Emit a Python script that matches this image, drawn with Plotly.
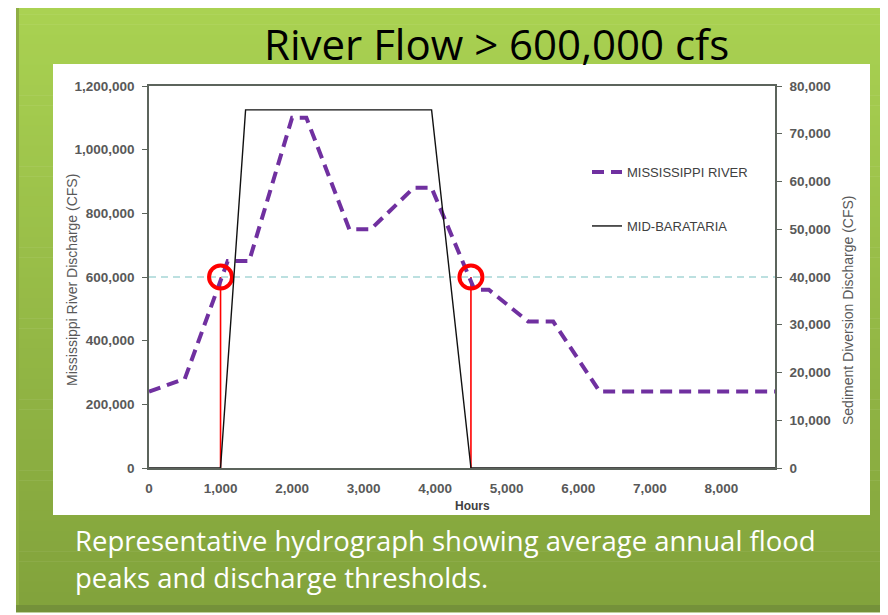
import numpy as np
import plotly.graph_objects as go

# Mississippi River hydrograph (left axis, cfs)
hours_river = [0, 500, 1100, 1400, 2000, 2200, 2800, 3100, 3700, 3950,
               4550, 4750, 5300, 5650, 6300, 8750]
river_cfs = [240000, 280000, 650000, 650000, 1100000, 1100000, 750000, 750000,
             880000, 880000, 560000, 560000, 460000, 460000, 240000, 240000]

# Mid-Barataria diversion (right axis, cfs)
hours_diversion = [0, 1000, 1350, 3950, 4500, 8750]
diversion_cfs = [0, 0, 75000, 75000, 0, 0]

threshold_cfs = 600000
threshold_hours = [1000, 4500]

x_ticks = [0, 1000, 2000, 3000, 4000, 5000, 6000, 7000, 8000]

# page body has an 8px margin, so the figure is a bit smaller than the window
OFF = 8
W, H = 888 - OFF, 615 - OFF
L, R, T, B = 149, 775, 86, 468   # plot area in window pixels


def px(x):
    return (x - L) / (R - L)


def py(y):
    return (B - y) / (B - T)


fig = go.Figure()

fig.add_trace(go.Scatter(
    x=[0, 8750], y=[threshold_cfs, threshold_cfs], mode="lines",
    line=dict(color="#a6d6d6", width=1.6, dash="7px,5px"),
    showlegend=False, hoverinfo="skip"))

for h in threshold_hours:
    fig.add_trace(go.Scatter(
        x=[h, h], y=[0, threshold_cfs], mode="lines",
        line=dict(color="#ff0000", width=1.6),
        showlegend=False, hoverinfo="skip"))

fig.add_trace(go.Scatter(
    x=hours_diversion, y=diversion_cfs, mode="lines", yaxis="y2",
    name="MID-BARATARIA", legend="legend2",
    line=dict(color="#111111", width=1.4)))

fig.add_trace(go.Scatter(
    x=hours_river, y=river_cfs, mode="lines", name="MISSISSIPPI RIVER",
    line=dict(color="#7030a0", width=4, dash="12px,7px")))

fig.add_trace(go.Scatter(
    x=threshold_hours, y=[threshold_cfs] * 2, mode="markers",
    marker=dict(symbol="circle-open", size=23, color="#ff0000",
                line=dict(width=4, color="#ff0000")),
    showlegend=False, hoverinfo="skip"))

# slide background: green box with vertical gradient, white chart panel
shapes = []
top_c = np.array([170, 210, 82])
bot_c = np.array([130, 163, 60])
n = 60
edges = np.linspace(4, 612, n + 1)
for i in range(n):
    c = top_c + (bot_c - top_c) * i / (n - 1)
    shapes.append(dict(
        type="rect", xref="paper", yref="paper", layer="below",
        x0=px(16), x1=px(889), y0=py(edges[i]), y1=py(edges[i + 1] + 0.5),
        fillcolor="rgb(%d,%d,%d)" % tuple(c), line=dict(width=0)))
shapes.append(dict(type="rect", xref="paper", yref="paper", layer="below",
                   x0=px(16), x1=px(889), y0=py(4), y1=py(8),
                   fillcolor="#c4e27a", line=dict(width=0)))
shapes.append(dict(type="rect", xref="paper", yref="paper", layer="below",
                   x0=px(16), x1=px(19), y0=py(4), y1=py(612),
                   fillcolor="#8fae45", line=dict(width=0)))
shapes.append(dict(type="rect", xref="paper", yref="paper", layer="below",
                   x0=px(16), x1=px(889), y0=py(605), y1=py(612),
                   fillcolor="#74913a", line=dict(width=0)))
shapes.append(dict(type="rect", xref="paper", yref="paper", layer="below",
                   x0=px(53), x1=px(870), y0=py(64), y1=py(515),
                   fillcolor="white", line=dict(width=0)))

tick_font = dict(family="Liberation Sans, Arial", size=13.5, color="#595959",
                 weight="bold")
axis_title_font = dict(family="Liberation Sans, Arial", size=14, color="#595959")

annotations = [
    dict(text="River Flow > 600,000 cfs", x=px(496), y=py(44), xref="paper",
         yref="paper", showarrow=False, xanchor="center", yanchor="middle",
         font=dict(family="Open Sans", size=42, color="#000000")),
    dict(text="Representative hydrograph showing average annual flood",
         x=px(73), y=py(540), xref="paper", yref="paper", showarrow=False,
         xanchor="left", yanchor="middle",
         font=dict(family="Open Sans", size=27.5, color="#ffffff")),
    dict(text="peaks and discharge thresholds.",
         x=px(73), y=py(577), xref="paper", yref="paper", showarrow=False,
         xanchor="left", yanchor="middle",
         font=dict(family="Open Sans", size=27.5, color="#ffffff")),
    dict(text="Mississippi River Discharge (CFS)", x=px(72), y=py(280),
         xref="paper", yref="paper", showarrow=False, textangle=-90,
         xanchor="center", yanchor="middle", font=axis_title_font),
    dict(text="Sediment Diversion Discharge (CFS)", x=px(848), y=py(310),
         xref="paper", yref="paper", showarrow=False, textangle=-90,
         xanchor="center", yanchor="middle", font=axis_title_font),
    dict(text="Hours", x=px(472), y=py(506), xref="paper", yref="paper",
         showarrow=False, xanchor="center", yanchor="middle",
         font=dict(family="Liberation Sans, Arial", size=12, color="#404040",
                   weight="bold")),
]

axis_color = "#5c645c"

fig.update_layout(
    width=W, height=H,
    margin=dict(l=L - OFF, r=888 - R, t=T - OFF, b=615 - B),
    paper_bgcolor="white",
    plot_bgcolor="rgba(0,0,0,0)",
    shapes=shapes,
    annotations=annotations,
    xaxis=dict(range=[0, 8750], tickvals=x_ticks, tickformat=",",
               showgrid=False, zeroline=False, showline=True,
               linecolor=axis_color, linewidth=1.5, mirror=True,
               ticks="", tickfont=tick_font, ticklabelstandoff=7),
    yaxis=dict(range=[0, 1200000], dtick=200000, tickformat=",",
               showgrid=False, zeroline=False, showline=True,
               linecolor=axis_color, linewidth=1.5, ticks="outside",
               ticklen=5, tickcolor=axis_color, tickfont=tick_font,
               ticklabelstandoff=5),
    yaxis2=dict(range=[0, 80000], dtick=10000, tickformat=",",
                overlaying="y", side="right", showgrid=False,
                zeroline=False, showline=True, linecolor=axis_color,
                linewidth=1.5, ticks="outside", ticklen=5,
                tickcolor=axis_color, tickfont=tick_font,
                ticklabelstandoff=5),
    legend=dict(x=px(587), y=py(172), xanchor="left", yanchor="middle",
                bgcolor="rgba(0,0,0,0)",
                font=dict(family="Liberation Sans, Arial", size=13,
                          color="#404040")),
    legend2=dict(x=px(587), y=py(226), xanchor="left", yanchor="middle",
                 bgcolor="rgba(0,0,0,0)",
                 font=dict(family="Liberation Sans, Arial", size=13,
                           color="#404040")),
)

fig.write_html("out.html")
